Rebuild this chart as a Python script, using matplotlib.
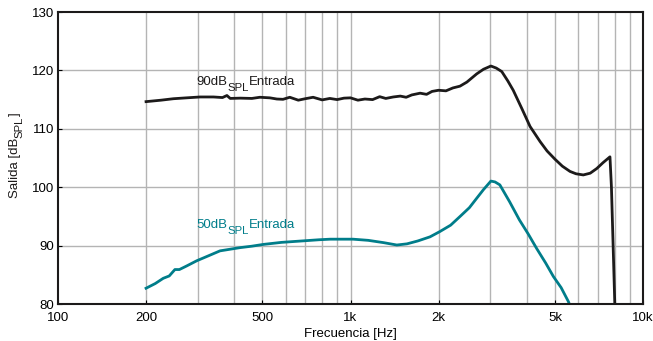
import matplotlib
matplotlib.use("Agg")
import matplotlib.pyplot as plt
from matplotlib.ticker import FixedLocator, NullFormatter
from matplotlib.transforms import ScaledTranslation

plt.rcParams['font.family'] = ['Liberation Sans', 'DejaVu Sans']

# Curva con entrada de 90 dB SPL
f_90 = [200, 225, 248, 275, 306, 340, 365, 378, 388, 420, 460, 490, 530, 560, 588, 620,
        663, 700, 745, 800, 850, 900, 950, 1000, 1060, 1120, 1190, 1258, 1320, 1400,
        1480, 1550, 1620, 1730, 1820, 1900, 2000, 2120, 2240, 2367, 2500, 2700, 2850,
        3020, 3150, 3290, 3450, 3600, 3850, 4110, 4450, 4700, 5000, 5300, 5630, 5900,
        6250, 6600, 6950, 7300, 7710, 7800, 8020]
v_90 = [114.65, 114.9, 115.15, 115.3, 115.45, 115.45, 115.35, 115.7, 115.2, 115.25,
        115.2, 115.4, 115.3, 115.1, 115.05, 115.4, 114.9, 115.15, 115.4, 114.95, 115.2,
        115.0, 115.25, 115.3, 114.9, 115.1, 115.0, 115.5, 115.2, 115.45, 115.6, 115.4,
        115.8, 116.1, 115.9, 116.4, 116.6, 116.5, 117.0, 117.3, 118.0, 119.4, 120.2,
        120.75, 120.4, 119.8, 118.2, 116.6, 113.5, 110.4, 107.8, 106.2, 104.8, 103.6,
        102.7, 102.3, 102.1, 102.4, 103.2, 104.2, 105.2, 100.0, 79.0]

# Curva con entrada de 50 dB SPL
f_50 = [200, 215, 229, 240, 251, 260, 275, 298, 325, 358, 390, 419, 460, 503, 580,
        640, 707, 780, 852, 920, 1020, 1150, 1300, 1440, 1560, 1700, 1870, 2020, 2200,
        2370, 2550, 2700, 2850, 3020, 3120, 3240, 3500, 3780, 4050, 4330, 4650, 4940,
        5250, 5560, 5700]
v_50 = [82.7, 83.5, 84.4, 84.8, 85.9, 85.9, 86.5, 87.4, 88.2, 89.1, 89.4, 89.65,
        89.9, 90.2, 90.55, 90.7, 90.85, 91.0, 91.1, 91.1, 91.1, 90.9, 90.5, 90.1, 90.3,
        90.8, 91.5, 92.4, 93.5, 95.0, 96.5, 98.1, 99.6, 101.05, 100.9, 100.4, 97.5,
        94.4, 92.0, 89.5, 87.0, 84.7, 82.8, 80.4, 79.0]

x_ticks = [100, 200, 500, 1000, 2000, 5000, 10000]
x_labels = ['100', '200', '500', '1k', '2k', '5k', '10k']
x_grid = [200, 300, 400, 500, 600, 700, 800, 900, 1000,
          2000, 3000, 4000, 5000, 6000, 7000, 8000, 9000]
y_ticks = [80, 90, 100, 110, 120, 130]

BLACK = '#1c1a1a'
TEAL = '#007d8a'
FS = 9.5

fig = plt.figure(figsize=(6.53, 3.41), dpi=100)
ax = fig.add_axes([58 / 653, 37 / 341, 585 / 653, 292 / 341])
renderer = fig.canvas.get_renderer()


def rich_text(x, y, pieces, transform, color, rot=0):
    # pieces: (texto, tamaño, desplazamiento hacia abajo en puntos)
    adv = 0.0
    for s, size, drop in pieces:
        if rot == 0:
            dx, dy = adv, -drop
        else:
            dx, dy = drop, adv
        t = fig.text(x, y, s, fontsize=size, color=color, rotation=rot,
                     rotation_mode='anchor', ha='left', va='baseline',
                     transform=transform + ScaledTranslation(dx / 72, dy / 72, fig.dpi_scale_trans))
        bb = t.get_window_extent(renderer)
        w = bb.width if rot == 0 else bb.height
        adv += w * 72 / fig.dpi


ax.set_xscale('log')
ax.set_xlim(100, 10000)
ax.set_ylim(80, 130)

for g in x_grid:
    ax.axvline(g, color='#b4b4b4', lw=1.0, zorder=0)
for g in y_ticks[1:-1]:
    ax.axhline(g, color='#b4b4b4', lw=1.0, zorder=0)

ax.plot(f_90, v_90, color=BLACK, lw=2.0)
ax.plot(f_50, v_50, color=TEAL, lw=2.0)

rich_text(298, 117.5, [('90dB', FS, 0), ('SPL', 8.2, 4.3), ('Entrada', FS, 0)],
          ax.transData, BLACK)
rich_text(298, 93.0, [('50dB', FS, 0), ('SPL', 8.2, 4.3), ('Entrada', FS, 0)],
          ax.transData, TEAL)

ax.xaxis.set_major_locator(FixedLocator(x_ticks))
ax.set_xticklabels(x_labels)
ax.xaxis.set_minor_locator(FixedLocator([]))
ax.xaxis.set_minor_formatter(NullFormatter())
ax.set_yticks(y_ticks)
ax.tick_params(axis='both', direction='in', length=3, labelsize=FS)
ax.tick_params(axis='x', pad=6)
ax.tick_params(axis='y', pad=3)

for s in ax.spines.values():
    s.set_linewidth(1.5)
    s.set_color(BLACK)

ax.set_xlabel('Frecuencia [Hz]', fontsize=FS, labelpad=3)

# etiqueta del eje y con subíndice, en píxeles de la figura
rich_text(18 / 653, 1 - 198 / 341, [('Salida [dB', FS, 0), ('SPL', 8.2, 3.0), (']', FS, 0)],
          fig.transFigure, BLACK, rot=90)

fig.savefig('out.png', dpi=100)
